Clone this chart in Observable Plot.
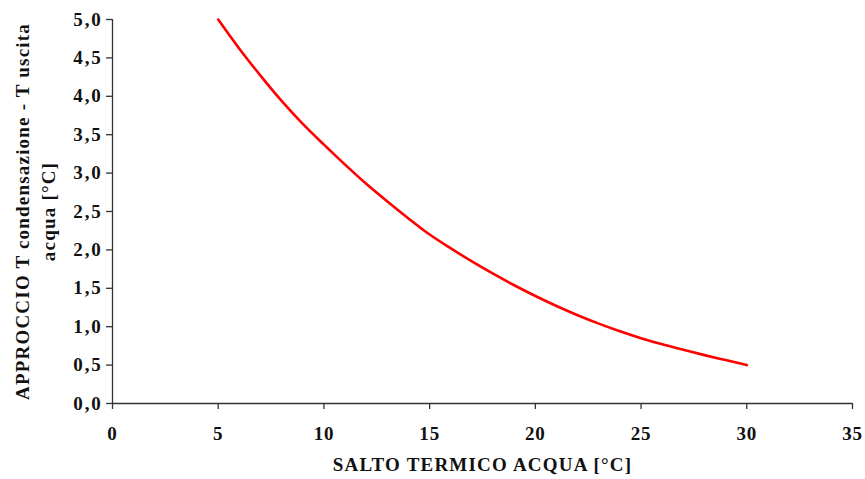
<!DOCTYPE html>
<html>
<head>
<meta charset="utf-8">
<script src="https://cdn.jsdelivr.net/npm/d3@7"></script>
<script src="https://cdn.jsdelivr.net/npm/@observablehq/plot@0.6"></script>
<style>
  html, body { margin: 0; padding: 0; background: #fff; }
  #chart svg { display: block; }
  g[aria-label="text"] text { letter-spacing: 1.2px; }
  g[aria-label="y-axis tick label"] text { letter-spacing: 1.8px; }
  g[aria-label="x-axis tick label"] text { letter-spacing: 0.8px; }
</style>
</head>
<body>
<div id="chart"></div>
<script>
const saltoTermico = [5, 6, 7, 8, 9, 10, 11, 12, 13, 14, 15, 16, 17, 18, 19, 20, 21, 22, 23, 24, 25, 26, 27, 28, 29, 30];
const approccio = [5.0, 4.62, 4.27, 3.94, 3.64, 3.37, 3.11, 2.86, 2.63, 2.41, 2.2, 2.02, 1.85, 1.69, 1.54, 1.4, 1.27, 1.15, 1.04, 0.94, 0.85, 0.77, 0.7, 0.63, 0.565, 0.5];
const xTicks = [0, 5, 10, 15, 20, 25, 30, 35];
const yTicks = [0, 0.5, 1, 1.5, 2, 2.5, 3, 3.5, 4, 4.5, 5];
const xTitle = "SALTO TERMICO ACQUA [°C]";
const yTitle = "APPROCCIO T condensazione - T uscita\nacqua [°C]";

const data = saltoTermico.map((x, i) => ({x, y: approccio[i]}));
const font = "'Liberation Serif', 'DejaVu Serif', serif";
const axisColor = "#333";

const chart = Plot.plot({
  width: 865,
  height: 479,
  marginLeft: 112,
  marginRight: 13,
  marginTop: 19,
  marginBottom: 76,
  style: {fontFamily: font, fontSize: "19px", fontWeight: "bold", color: "#111", background: "#fff"},
  x: {domain: [0, 35], ticks: xTicks, label: null},
  y: {domain: [0, 5], ticks: yTicks, label: null},
  marks: [
    Plot.ruleY([0], {stroke: axisColor, strokeWidth: 1.3}),
    Plot.ruleX([0], {stroke: axisColor, strokeWidth: 1.3}),
    Plot.axisX({ticks: xTicks, tickSize: 6, tickPadding: 17, fontSize: 19, tickFormat: d => String(d), stroke: axisColor, strokeWidth: 1.3, label: null}),
    Plot.axisY({ticks: yTicks, tickSize: 6, tickPadding: 4, fontSize: 19, tickFormat: d => d.toFixed(1).replace(".", ","), stroke: axisColor, strokeWidth: 1.3, label: null}),
    Plot.line(data, {x: "x", y: "y", stroke: "#ff0000", strokeWidth: 2.6, curve: "monotone-x"}),
    Plot.text([xTitle], {frameAnchor: "bottom", dy: 67, fontSize: 19, fontWeight: "bold", fill: "#111"}),
    Plot.text([yTitle], {frameAnchor: "left", textAnchor: "middle", dx: -79, rotate: -90, fontSize: 19, fontWeight: "bold", lineHeight: 1.4, fill: "#111"})
  ]
});
document.getElementById("chart").appendChild(chart);
</script>
</body>
</html>
